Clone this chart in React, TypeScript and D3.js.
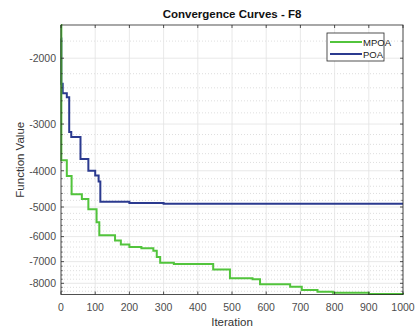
import React from "react";
import * as d3 from "d3";

const mpoaIter = [0, 1, 17, 31, 61, 80, 104, 112, 158, 175, 200, 235, 270, 280, 290, 330, 445, 494, 560, 582, 670, 704, 750, 795, 900, 1000];
const mpoaVal = [-1630, -3750, -4130, -4620, -4760, -5070, -5490, -5950, -6150, -6300, -6400, -6450, -6550, -6800, -7050, -7100, -7350, -7750, -7800, -8050, -8170, -8330, -8420, -8480, -8540, -8570];

const poaIter = [0, 1, 5, 17, 24, 30, 57, 80, 100, 110, 115, 200, 300, 1000];
const poaVal = [-1770, -2340, -2480, -2545, -3150, -3250, -3720, -4000, -4120, -4270, -4840, -4880, -4900, -4900];

const xTicks = [0, 100, 200, 300, 400, 500, 600, 700, 800, 900, 1000];
const yTicks = [-2000, -3000, -4000, -5000, -6000, -7000, -8000];
const yMinor = [-1800, -2200, -2400, -2600, -2800, -3200, -3400, -3600, -3800, -4200, -4400, -4600, -4800, -5200, -5400, -5600, -5800, -6200, -6400, -6600, -6800, -7200, -7400, -7600, -7800, -8200, -8400];

const W = 419, H = 329;
const L = 61, R = 403, T = 25, B = 294.5;
const FONT = "'Liberation Sans', Arial, Helvetica, sans-serif";

export default function App() {
  const x = d3.scaleLinear().domain([0, 1000]).range([L, R]);
  const ylog = d3.scaleLog().domain([1630, 8570]).range([T, B]);
  const y = (v: number) => ylog(-v);

  const line = d3
    .line<[number, number]>()
    .x((d) => x(d[0]))
    .y((d) => y(d[1]))
    .curve(d3.curveStepAfter);

  const mpoa = mpoaIter.map((it, i) => [it, mpoaVal[i]] as [number, number]);
  const poa = poaIter.map((it, i) => [it, poaVal[i]] as [number, number]);

  const axisColor = "#262626";
  const tickColor = "#4d4d4d";

  return (
    <svg width={W} height={H} style={{ position: "absolute", left: 0, top: 0, background: "#fff" }} fontFamily={FONT}>
      <rect x={0} y={0} width={W} height={H} fill="#fff" />
      {yMinor.map((v) => (
        <line key={"ym" + v} x1={L} x2={R} y1={y(v)} y2={y(v)} stroke="#c8c8c8" strokeWidth={0.6} strokeDasharray="1,2" />
      ))}
      {yTicks.map((v) => (
        <line key={"yg" + v} x1={L} x2={R} y1={y(v)} y2={y(v)} stroke="#e2e2e2" strokeWidth={0.8} />
      ))}
      {xTicks.map((v) => (
        <line key={"xg" + v} x1={x(v)} x2={x(v)} y1={T} y2={B} stroke="#e2e2e2" strokeWidth={0.8} />
      ))}
      <path d={line(poa) || ""} fill="none" stroke="#2b3a8f" strokeWidth={2} />
      <path d={line(mpoa) || ""} fill="none" stroke="#52c43c" strokeWidth={2} />
      <rect x={L} y={T} width={R - L} height={B - T} fill="none" stroke={axisColor} strokeWidth={0.8} />
      {xTicks.map((v) => (
        <g key={"xt" + v}>
          <line x1={x(v)} x2={x(v)} y1={B} y2={B - 3} stroke={axisColor} strokeWidth={0.8} />
          <line x1={x(v)} x2={x(v)} y1={T} y2={T + 3} stroke={axisColor} strokeWidth={0.8} />
          <text x={x(v)} y={B + 16} textAnchor="middle" fontSize={10.5} fill={tickColor}>{v}</text>
        </g>
      ))}
      {yTicks.map((v) => (
        <g key={"yt" + v}>
          <line x1={L} x2={L + 3} y1={y(v)} y2={y(v)} stroke={axisColor} strokeWidth={0.8} />
          <line x1={R} x2={R - 3} y1={y(v)} y2={y(v)} stroke={axisColor} strokeWidth={0.8} />
          <text x={L - 5} y={y(v) + 3.8} textAnchor="end" fontSize={10.5} fill={tickColor}>{v}</text>
        </g>
      ))}
      {yMinor.map((v) => (
        <g key={"ymt" + v}>
          <line x1={L} x2={L + 1.8} y1={y(v)} y2={y(v)} stroke={axisColor} strokeWidth={0.6} />
          <line x1={R} x2={R - 1.8} y1={y(v)} y2={y(v)} stroke={axisColor} strokeWidth={0.6} />
        </g>
      ))}
      <text x={(L + R) / 2} y={18} textAnchor="middle" fontSize={11.5} fontWeight="bold" fill="#111">Convergence Curves - F8</text>
      <text x={(L + R) / 2} y={326} textAnchor="middle" fontSize={11.5} fill="#333">Iteration</text>
      <text transform={`translate(24,${(T + B) / 2}) rotate(-90)`} textAnchor="middle" fontSize={11.5} fill="#333">Function Value</text>
      <rect x={327} y={33} width={57} height={28} fill="#fff" stroke={axisColor} strokeWidth={0.8} />
      <line x1={330} x2={362} y1={42} y2={42} stroke="#52c43c" strokeWidth={2} />
      <line x1={330} x2={362} y1={54} y2={54} stroke="#2b3a8f" strokeWidth={2} />
      <text x={363} y={45.5} fontSize={9.5} fill="#222">MPOA</text>
      <text x={363} y={57.5} fontSize={9.5} fill="#222">POA</text>
    </svg>
  );
}
